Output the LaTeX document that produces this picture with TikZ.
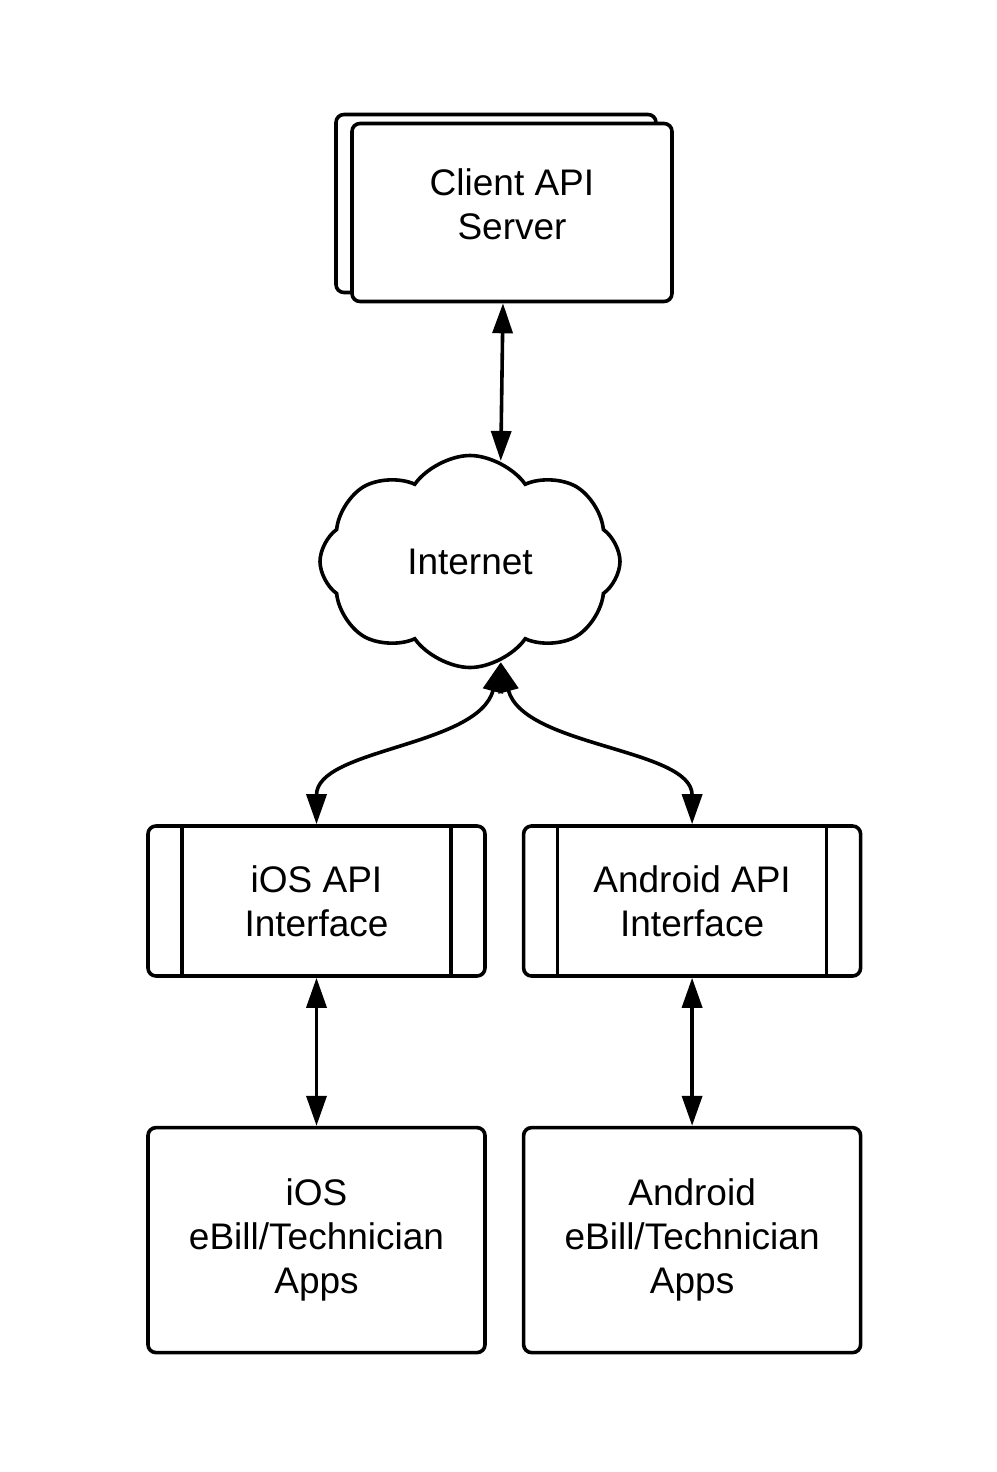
\documentclass[tikz,border=0pt]{standalone}
\usepackage{fontspec}
\setmainfont{Liberation Sans}
\usetikzlibrary{arrows.meta,positioning,shapes.symbols}

\begin{document}
\begin{tikzpicture}[
    node distance=17.5pt,
    >={Triangle[length=15pt,width=10pt]},
    box/.style={draw, line width=1.8pt, rounded corners=4pt, fill=white, align=center, minimum width=168.5pt, font=\fontsize{18.5}{22}\selectfont},
    srv/.style={box, minimum width=160pt, minimum height=89pt},
    iface/.style={box, minimum height=75pt, path picture={
        \draw[line width=1.8pt] ([xshift=17pt]path picture bounding box.north west) -- ([xshift=17pt]path picture bounding box.south west);
        \draw[line width=1.8pt] ([xshift=-17pt]path picture bounding box.north east) -- ([xshift=-17pt]path picture bounding box.south east);}},
    app/.style={box, minimum height=112.5pt},
    net/.style={draw, line width=1.8pt, cloud, cloud puffs=8, cloud puff arc=110, aspect=1.4, minimum width=150pt, minimum height=106pt, font=\fontsize{18.5}{22}\selectfont},
    arr/.style={<->, line width=1.8pt}
  ]
    \useasboundingbox (0,0) rectangle (498pt,-736pt);
    \node[srv] (serverback) at (248pt,-101.75pt) {};
    \node[srv] (server) at (256pt,-106.25pt) {Client API\\Server\\[-14pt]\mbox{}};
    \node[net] (internet) at (235pt,-280.75pt) {Internet};
    \node[iface] (iosapi) at (158.25pt,-450.5pt) {iOS API\\Interface};
    \node[iface, right=of iosapi] (androidapi) {Android API\\Interface};
    \node[app, below=74pt of iosapi] (iosapps) {iOS\\eBill/Technician\\Apps};
    \node[app, below=74pt of androidapi] (androidapps) {Android\\eBill/Technician\\Apps};
    \draw[arr] ([xshift=-4.5pt]server.south) -- (internet.73);
    \draw[arr] (internet.-73) .. controls +(-11.5pt,-42.5pt) and +(0,38pt) .. (iosapi.north);
    \draw[arr] (internet.-73) .. controls +(11.5pt,-42.5pt) and +(0,38pt) .. (androidapi.north);
    \draw[arr] (iosapi) -- (iosapps);
    \draw[arr] (androidapi) -- (androidapps);
\end{tikzpicture}
\end{document}
